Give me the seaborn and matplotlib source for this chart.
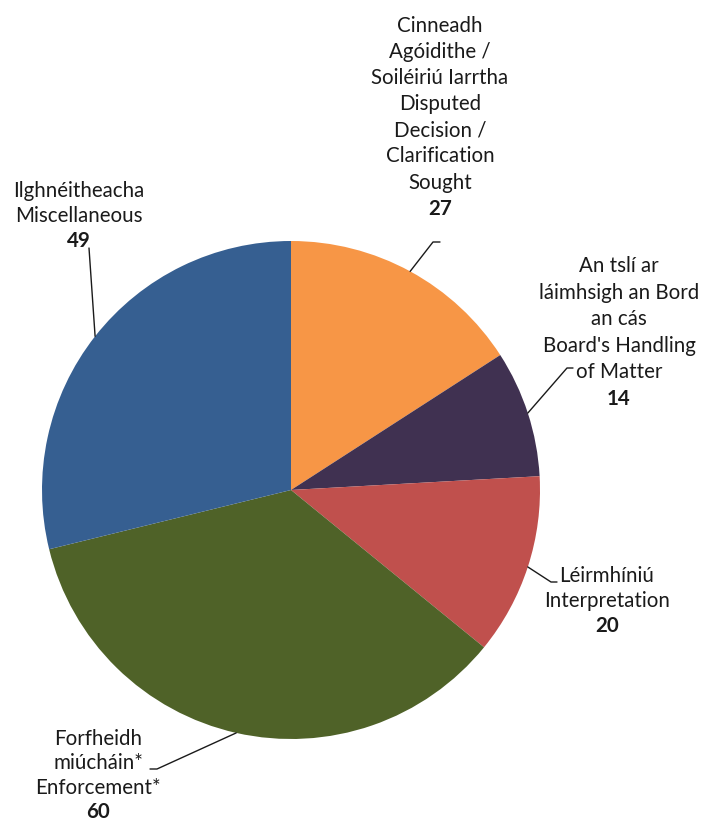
import numpy as np
import matplotlib
matplotlib.use("Agg")
import matplotlib.pyplot as plt
import seaborn as sns

sns.set_theme(style="white")
plt.rcParams['font.family'] = ['Lato', 'DejaVu Sans']

# data
names = [
    "Cinneadh\nAgóidithe /\nSoiléiriú Iarrtha\nDisputed\nDecision /\nClarification\nSought",
    "An tslí ar\nláimhsigh an Bord\nan cás\nBoard's Handling\nof Matter",
    "Léirmhíniú\nInterpretation",
    "Forfheidh\nmiúcháin*\nEnforcement*",
    "Ilghnéitheacha\nMiscellaneous",
]
values = [27, 14, 20, 60, 49]
colors = ["#F79646", "#403151", "#C0504D", "#4F6228", "#365F91"]

W, H = 706, 821
CX, CY, R = 291, 490, 249

fig = plt.figure(figsize=(W / 100, H / 100), dpi=100)
ax = fig.add_axes([(CX - R) / W, (H - CY - R) / H, 2 * R / W, 2 * R / H])

wedges, _ = ax.pie(values, colors=colors, startangle=90, counterclock=False,
                   radius=1, wedgeprops=dict(linewidth=0))
ax.set_xlim(-1, 1)
ax.set_ylim(-1, 1)
ax.set_aspect('equal')
ax.axis('off')


def P(x, y):
    # pixel position -> data coords
    return ((x - CX) / R, (CY - y) / R)


# label layout: (centre x, first baseline y, line step, hook point, hook end)
layout = [
    (440, 32, 26.1, (433, 242), (440, 242)),
    (619, 272, 26.6, (567, 368), (573, 368)),
    (607, 582, 25.0, (551, 582), (557, 582)),
    (98, 745, 24.3, (157, 769), (150, 769)),
    (79, 197, 25.0, (89, 248), (89, 248)),
]

for w, name, val, (lx, ly, step, hook, hend) in zip(wedges, names, values, layout):
    lines = name.split("\n")
    for i, ln in enumerate(lines):
        ax.text(*P(lx, ly + i * step), ln, ha='center', va='baseline',
                fontsize=14.8, color="#1a1a1a", clip_on=False)
    ax.text(*P(lx, ly + len(lines) * step), str(val), ha='center', va='baseline',
            fontsize=14.8, fontweight='bold', color="#1a1a1a", clip_on=False)

    mid = np.deg2rad((w.theta1 + w.theta2) / 2)
    ex, ey = np.cos(mid), np.sin(mid)
    hx, hy = P(*hook)
    tx, ty = P(*hend)
    ax.plot([ex, hx, tx], [ey, hy, ty], color="#1a1a1a", lw=1, clip_on=False)

fig.savefig("out.png", dpi=100)
